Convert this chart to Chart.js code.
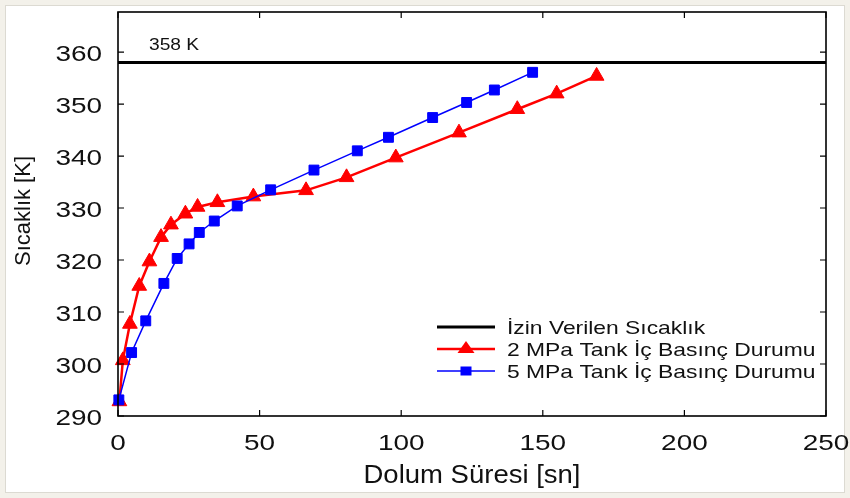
<!DOCTYPE html>
<html>
<head>
<meta charset="utf-8">
<script src="https://cdn.jsdelivr.net/npm/chart.js@4"></script>
<style>
  html, body { margin: 0; padding: 0; background: #f3f1ea; }
  #wrap { width: 850px; height: 498px; }
</style>
</head>
<body>
<div id="wrap"><canvas id="chart" width="850" height="498"></canvas></div>
<script>
// Dolum süresi [sn] ve sıcaklık [K]
const time2MPa = [0.5, 1.7, 4.2, 7.5, 11.1, 15.2, 18.7, 23.8, 28.1, 35.1, 47.8, 66.4, 80.7, 98.1, 120.4, 141.0, 154.9, 169.0];
const temp2MPa = [292.8, 300.7, 307.7, 315.0, 319.7, 324.4, 326.8, 328.9, 330.2, 331.1, 332.2, 333.4, 335.9, 339.7, 344.5, 349.0, 352.0, 355.4];

const time5MPa = [0.3, 4.8, 9.8, 16.2, 20.9, 25.1, 28.7, 34.0, 42.1, 53.9, 69.2, 84.5, 95.5, 111.1, 123.1, 132.9, 146.4];
const temp5MPa = [293.1, 302.2, 308.3, 315.5, 320.3, 323.1, 325.3, 327.5, 330.4, 333.5, 337.3, 341.0, 343.6, 347.4, 350.3, 352.7, 356.1];

const limitTemp = 358;
const limitTime = [0, 250];

const xTicks = [0, 50, 100, 150, 200, 250];
const yTicks = [290, 300, 310, 320, 330, 340, 350, 360];

const legendLabels = ["İzin Verilen Sıcaklık", "2 MPa Tank İç Basınç Durumu", "5 MPa Tank İç Basınç Durumu"];
const xTitle = "Dolum Süresi [sn]";
const yTitle = "Sıcaklık [K]";

const FONT = "'Liberation Sans', Arial, sans-serif";

const toPoints = (xs, ys) => xs.map((x, i) => ({ x: x, y: ys[i] }));

// yatayda biraz geniş yazı (orijinaldeki gibi)
function wideText(ctx, text, x, y, sx, align) {
  ctx.save();
  ctx.translate(x, y);
  ctx.scale(sx, 1);
  ctx.textAlign = align || "left";
  ctx.fillText(text, 0, 0);
  ctx.restore();
}

const framePlugin = {
  id: "frame",
  beforeDraw(chart) {
    const ctx = chart.ctx;
    ctx.save();
    ctx.fillStyle = "#f3f1ea";
    ctx.fillRect(0, 0, chart.width, chart.height);
    ctx.fillStyle = "#ffffff";
    ctx.fillRect(5, 5, chart.width - 10, chart.height - 10);
    ctx.strokeStyle = "#dcdad2";
    ctx.lineWidth = 1;
    ctx.strokeRect(5.5, 5.5, chart.width - 11, chart.height - 11);
    ctx.restore();
  },
  afterDraw(chart) {
    const ctx = chart.ctx;
    const area = chart.chartArea;
    const xs = chart.scales.x;
    const ys = chart.scales.y;
    ctx.save();
    ctx.strokeStyle = "#000";
    ctx.lineWidth = 1.6;
    ctx.strokeRect(area.left, area.top, area.right - area.left, area.bottom - area.top);
    ctx.lineWidth = 1.2;
    ctx.beginPath();
    xTicks.forEach((v) => {
      const px = xs.getPixelForValue(v);
      ctx.moveTo(px, area.bottom);
      ctx.lineTo(px, area.bottom - 6);
      ctx.moveTo(px, area.top);
      ctx.lineTo(px, area.top + 6);
    });
    yTicks.forEach((v) => {
      const py = ys.getPixelForValue(v);
      ctx.moveTo(area.left, py);
      ctx.lineTo(area.left + 6, py);
      ctx.moveTo(area.right, py);
      ctx.lineTo(area.right - 6, py);
    });
    ctx.stroke();

    ctx.fillStyle = "#111";
    ctx.textBaseline = "alphabetic";

    // eksen etiketleri
    ctx.font = "22px " + FONT;
    yTicks.forEach((v) => {
      wideText(ctx, String(v), area.left - 16, ys.getPixelForValue(v) + 8.5, 1.27, "right");
    });
    xTicks.forEach((v) => {
      wideText(ctx, String(v), xs.getPixelForValue(v), area.bottom + 34, 1.27, "center");
    });

    // eksen başlıkları
    ctx.font = "25px " + FONT;
    wideText(ctx, xTitle, (area.left + area.right) / 2, 483, 1.1, "center");
    ctx.save();
    ctx.font = "22px " + FONT;
    ctx.translate(30, 211);
    ctx.rotate(-Math.PI / 2);
    ctx.textAlign = "center";
    ctx.fillText(yTitle, 0, 0);
    ctx.restore();

    // 358 K etiketi
    ctx.font = "16px " + FONT;
    wideText(ctx, limitTemp + " K", 149, 50, 1.2, "left");

    // açıklama
    const lx = 437, lw = 58, tx = 507;
    const rows = [327, 349, 371];
    ctx.font = "18.5px " + FONT;
    chart.data.datasets.forEach((ds, i) => {
      const y = rows[i];
      ctx.strokeStyle = ds.borderColor;
      ctx.lineWidth = ds.borderWidth;
      ctx.beginPath();
      ctx.moveTo(lx, y);
      ctx.lineTo(lx + lw, y);
      ctx.stroke();
      const cx = lx + lw / 2;
      if (ds.pointStyle === "triangle") {
        ctx.fillStyle = ds.pointBackgroundColor;
        ctx.beginPath();
        ctx.moveTo(cx, y - 8);
        ctx.lineTo(cx + 8.5, y + 4);
        ctx.lineTo(cx - 8.5, y + 4);
        ctx.closePath();
        ctx.fill();
      } else if (ds.pointStyle === "rect") {
        ctx.fillStyle = ds.pointBackgroundColor;
        ctx.fillRect(cx - 5.5, y - 4.5, 11, 9);
      }
      ctx.fillStyle = "#111";
      wideText(ctx, legendLabels[i], tx, y + 7, 1.235, "left");
    });
    ctx.restore();
  },
};

const ctx = document.getElementById("chart");
new Chart(ctx, {
  type: "line",
  data: {
    datasets: [
      {
        label: legendLabels[0],
        data: toPoints(limitTime, [limitTemp, limitTemp]),
        borderColor: "#000000",
        borderWidth: 3,
        pointRadius: 0,
        pointStyle: false,
        order: 3,
      },
      {
        label: legendLabels[1],
        data: toPoints(time2MPa, temp2MPa),
        borderColor: "#ff0000",
        backgroundColor: "#ff0000",
        pointBackgroundColor: "#ff0000",
        pointBorderColor: "#ff0000",
        borderWidth: 2.5,
        pointStyle: "triangle",
        pointRadius: 8.5,
        pointBorderWidth: 1,
        order: 2,
      },
      {
        label: legendLabels[2],
        data: toPoints(time5MPa, temp5MPa),
        borderColor: "#0000ff",
        backgroundColor: "#0000ff",
        pointBackgroundColor: "#0000ff",
        pointBorderColor: "#0000ff",
        borderWidth: 1.5,
        pointStyle: "rect",
        pointRadius: 7,
        pointBorderWidth: 1,
        order: 1,
      },
    ],
  },
  options: {
    responsive: false,
    animation: false,
    clip: false,
    layout: { padding: { left: 118, right: 24, top: 12, bottom: 82 } },
    plugins: {
      legend: { display: false },
      tooltip: { enabled: false },
    },
    scales: {
      x: {
        type: "linear",
        display: false,
        min: 0,
        max: 250,
      },
      y: {
        type: "linear",
        display: false,
        min: 290,
        max: 367.7,
      },
    },
  },
  plugins: [framePlugin],
});
</script>
</body>
</html>
